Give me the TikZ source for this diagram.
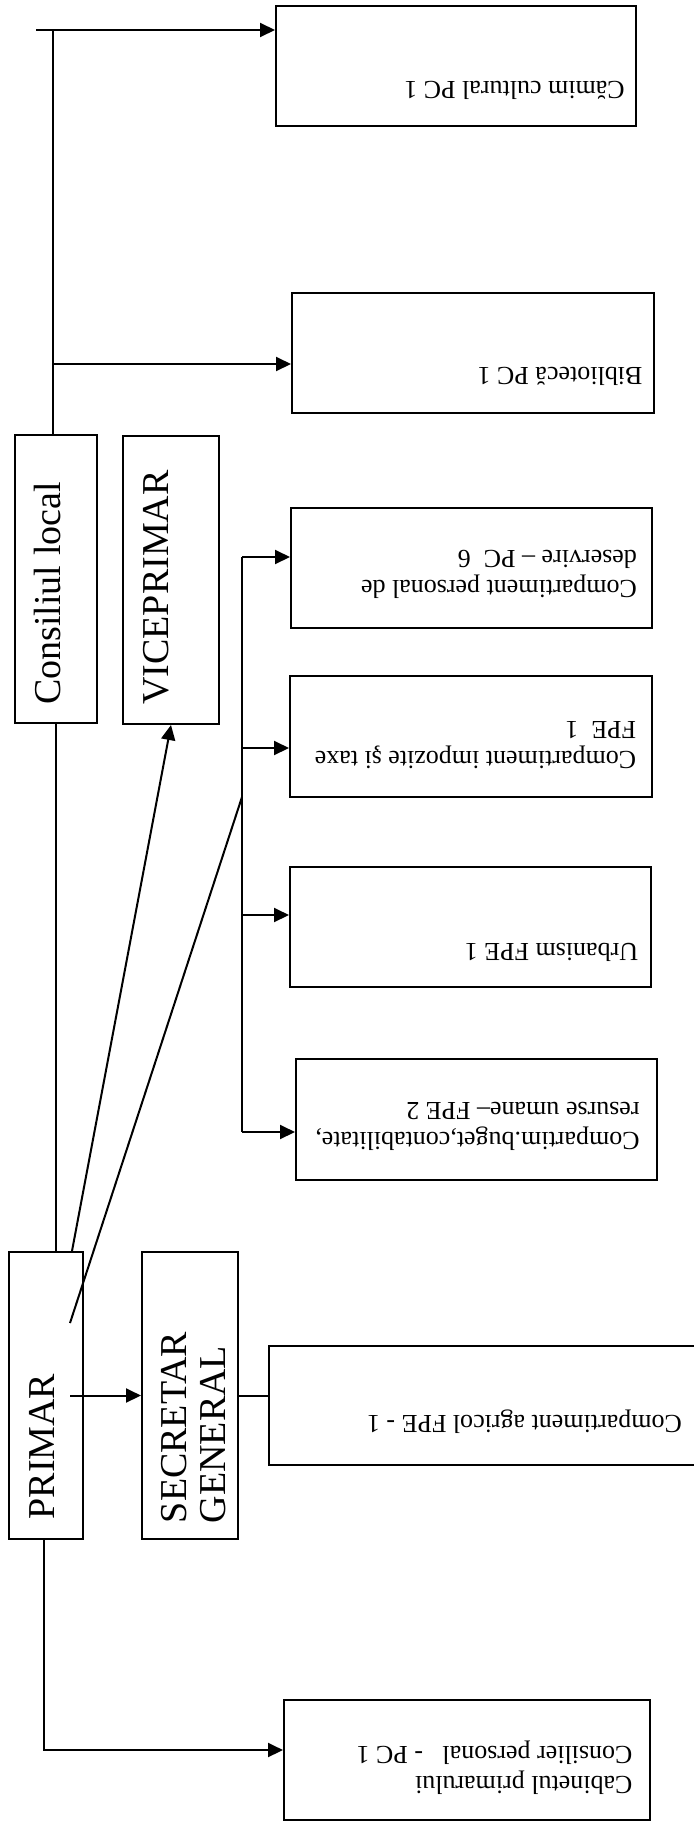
\documentclass[tikz,border=0pt]{standalone}
\usepackage{fontspec}
\setmainfont{Liberation Serif}
\usetikzlibrary{arrows.meta,calc}

\tikzset{every picture/.style={line width=1pt}}
\tikzset{
  box/.style={draw, inner sep=0pt},
  txt/.style={font=\fontsize{13}{15}\selectfont, rotate=180, align=left, inner sep=0pt},
  bigtxt/.style={font=\fontsize{19}{19.5}\selectfont, rotate=90, align=left, inner sep=0pt},
  arr/.style={-{Triangle[length=7.5pt,width=7pt]}}
}

\begin{document}
\begin{tikzpicture}[x=0.5pt,y=0.5pt,yscale=-1,xscale=1]
\useasboundingbox (0,0) rectangle (694,1831);

% Boxes
\node[box, minimum width=180pt, minimum height=60pt] (camin) at (456,66) {};
\node[box, minimum width=181pt, minimum height=60pt] (biblio) at (473,353) {};
\node[box, minimum width=41pt, minimum height=144pt] (consiliu) at (56,579) {};
\node[box, minimum width=48pt, minimum height=144pt] (vice) at (171,580) {};
\node[box, minimum width=180.5pt, minimum height=60pt] (deservire) at (471.5,568) {};
\node[box, minimum width=181pt, minimum height=60.5pt] (impozite) at (471,736.5) {};
\node[box, minimum width=180.5pt, minimum height=60pt] (urbanism) at (470.5,927) {};
\node[box, minimum width=180.5pt, minimum height=60.5pt] (buget) at (476.5,1119.5) {};
\node[box, minimum width=37pt, minimum height=143.5pt] (primar) at (46,1395.5) {};
\node[box, minimum width=48pt, minimum height=143.5pt] (secretar) at (190,1395.5) {};
\node[box, minimum width=218pt, minimum height=59.5pt] (agricol) at (487,1405.5) {};
\node[box, minimum width=183pt, minimum height=60pt] (cabinet) at (467,1760) {};

% Text Node
\node[txt] (camin-t) at (514.5,90) {Cămim cultural PC 1};
% Text Node
\node[txt] (biblio-t) at (560,376) {Bibliotecă PC 1};
% Text Node
\node[txt] (deservire-t) at (499,574) {Compartiment personal de\\deservire – PC~~6};
% Text Node
\node[txt] (impozite-t) at (475.5,745) {Compartiment impozite şi taxe\\FPE~~1};
% Text Node
\node[txt] (urbanism-t) at (551.5,952) {Urbanism FPE 1};
% Text Node
\node[txt] (buget-t) at (477.5,1126) {Compartim.buget,contabilitate,\\resurse umane– FPE 2};
% Text Node
\node[txt] (agricol-t) at (524.5,1422) {Compartiment agricol FPE - 1};
% Text Node
\node[txt] (cabinet-t) at (494.5,1768) {Cabinetul primarului\\Consilier personal~~~- PC 1};
% Text Node
\node[bigtxt] (consiliu-t) at (47.5,593.5) {Consiliul local};
% Text Node
\node[bigtxt] (vice-t) at (156,587.5) {VICEPRIMAR};
% Text Node
\node[bigtxt] (primar-t) at (42,1446.5) {PRIMAR};
% Text Node
\node[bigtxt] (secretar-t) at (193.5,1427.5) {SECRETAR\\GENERAL};

% Coordinates
\coordinate (tl) at (36,30);
\coordinate (bibrow) at (0,364);
\coordinate (b1) at (242,557);
\coordinate (b2) at (242,748);
\coordinate (b3) at (242,915);
\coordinate (b4) at (242,1132);
\coordinate (bj) at (242,797);
\coordinate (pin) at (70,1323);
\coordinate (cabrow) at (0,1750);

%Straight Lines
\draw[arr] (tl) -- (tl -| camin.west);
\draw ($(consiliu.north)+(-3,0)$) -- ($(consiliu.north |- tl)+(-3,0)$);
\draw[arr] ($(consiliu.north |- bibrow)+(-3,0)$) -- (bibrow -| biblio.west);

%Straight Lines
\draw (consiliu.south) -- (consiliu.south |- primar.north);
\draw[arr] ($(primar.north)+(26,0)$) -- (vice.south);
\draw (pin) -- (bj);

%Straight Lines
\draw (b1) -- (b4);
\draw[arr] (b1) -- (b1 -| deservire.west);
\draw[arr] (b2) -- (b2 -| impozite.west);
\draw[arr] (b3) -- (b3 -| urbanism.west);
\draw[arr] (b4) -- (b4 -| buget.west);

%Straight Lines
\draw[arr] ($(primar.center)+(24,0)$) -- (secretar.west);
\draw (secretar.east) -- (secretar.east -| agricol.west);
\draw[arr] ($(primar.south)+(-2,0)$) |- (cabrow -| cabinet.west);

\end{tikzpicture}
\end{document}
